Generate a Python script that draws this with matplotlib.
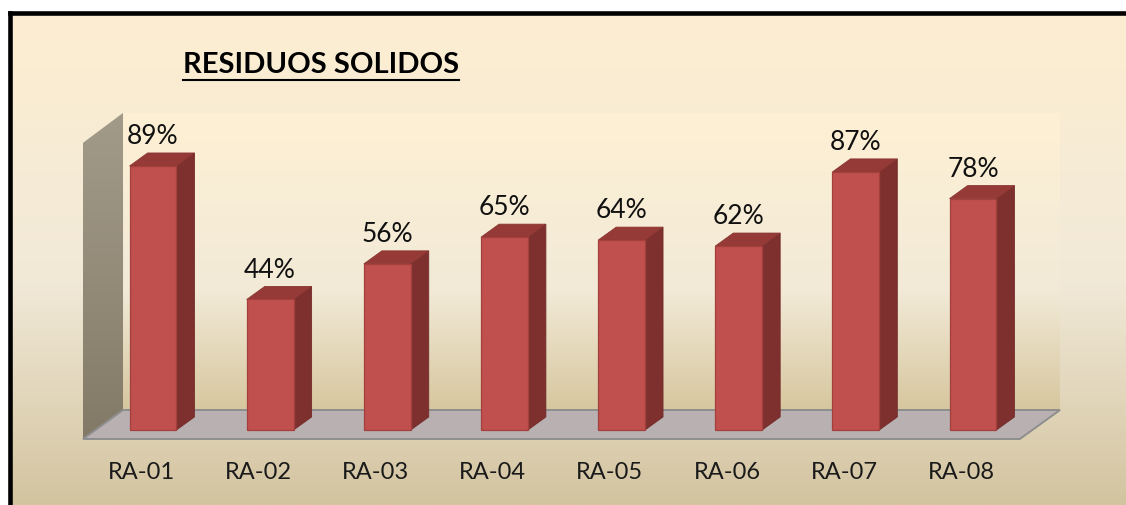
import numpy as np
import matplotlib.pyplot as plt
from matplotlib.patches import Polygon, Rectangle
from matplotlib.colors import LinearSegmentedColormap
from matplotlib.lines import Line2D

plt.rcParams['font.family'] = ['Lato', 'DejaVu Sans']

categories = ["RA-01", "RA-02", "RA-03", "RA-04", "RA-05", "RA-06", "RA-07", "RA-08"]
values = [89, 44, 56, 65, 64, 62, 87, 78]
value_labels = [f"{v}%" for v in values]
title = "RESIDUOS SOLIDOS"

W, H = 1126, 505
fig = plt.figure(figsize=(W / 100, H / 100), dpi=100, facecolor='white')


def vgrad(ax, extent, stops, clip=None, z=0):
    # vertical gradient image, row 0 = top colour
    cmap = LinearSegmentedColormap.from_list('g', stops)
    g = np.linspace(0, 1, 256).reshape(-1, 1)
    im = ax.imshow(g, extent=extent, cmap=cmap, aspect='auto', origin='upper',
                   interpolation='bilinear', zorder=z)
    if clip is not None:
        im.set_clip_path(clip)
    return im


# background / frame in pixel space
bg = fig.add_axes([0, 0, 1, 1])
bg.axis('off')
vgrad(bg, (10, W, H, 12), [(0, '#FDEED2'), (0.55, '#F1E9D7'), (1, '#D3C4A0')])
bg.plot([9.5, 9.5], [H, 12.5], color='black', lw=3.3, solid_capstyle='projecting')
bg.plot([9.5, W], [12.5, 12.5], color='black', lw=3.3, solid_capstyle='projecting')
bg.set_xlim(0, W)
bg.set_ylim(H, 0)

# main chart axes: x = category index, y = percent
px0, pitch, base, scale = 153, 117.14, 430, 2.966
ax = fig.add_axes([0, 0, 1, 1], facecolor='none')
ax.axis('off')
xlim = ((0 - px0) / pitch, (W - px0) / pitch)
ylim = ((base - H) / scale, base / scale)

# walls and floor
fx0, fx1, bx0, bx1 = -0.598, 7.40, -0.256, 7.743
fy, by, wall_top_f, wall_top_b = -3.03, 6.74, 96.8, 106.9

back = Polygon([(bx0, by), (bx1, by), (bx1, wall_top_b), (bx0, wall_top_b)],
               closed=True, fc='none', ec='none', transform=ax.transData)
ax.add_patch(back)
vgrad(ax, (bx0, bx1, by, wall_top_b),
      [(0, '#FEF0D4'), (0.6, '#F2EAD7'), (1, '#D7C79F')], clip=back, z=1)

left = Polygon([(fx0, fy), (fx0, wall_top_f), (bx0, wall_top_b), (bx0, by)],
               closed=True, fc='none', ec='none', transform=ax.transData)
ax.add_patch(left)
vgrad(ax, (fx0, bx0, fy, wall_top_b),
      [(0, '#A39B89'), (0.5, '#948C79'), (1, '#827A67')], clip=left, z=2)

floor = Polygon([(fx0, fy), (fx1, fy), (bx1, by), (bx0, by)], closed=True,
                fc='#B9B1B1', ec='#8E8E8E', lw=1.4, zorder=3)
ax.add_patch(floor)

# 3D bars
bw = 0.40
ddx, ddy = 0.154, 4.4
for i, v in enumerate(values):
    x0, x1 = i - bw / 2, i + bw / 2
    ax.add_patch(Polygon([(x1, 0), (x1 + ddx, ddy), (x1 + ddx, v + ddy), (x1, v)],
                         closed=True, fc='#7E302E', ec='#742B29', lw=0.6, zorder=4))
    ax.add_patch(Polygon([(x0, v), (x1, v), (x1 + ddx, v + ddy), (x0 + ddx, v + ddy)],
                         closed=True, fc='#953A37', ec='#8A3532', lw=0.6, zorder=4))
    ax.add_patch(Rectangle((x0, 0), bw, v, fc='#C0504D', ec='#A3403D', lw=0.9, zorder=5))
    ax.text(i, v + ddy + 5.5, value_labels[i], ha='center', va='center',
            fontsize=19, color='#111111', zorder=6)
    ax.text(i - 0.10, -14.2, categories[i], ha='center', va='center',
            fontsize=17, color='#1a1a1a', zorder=6)

ax.set_xlim(*xlim)
ax.set_ylim(*ylim)

# title with underline
t = fig.text(321 / W, 1 - 65 / H, title, ha='center', va='center',
             fontsize=21, fontweight='bold', color='black')
fig.canvas.draw()
bb = t.get_window_extent()
uy = (bb.y0 - 1.5) / H
fig.add_artist(Line2D([bb.x0 / W, bb.x1 / W], [uy, uy], color='black', lw=1.5,
                      transform=fig.transFigure))

fig.savefig("out.png", dpi=100)
